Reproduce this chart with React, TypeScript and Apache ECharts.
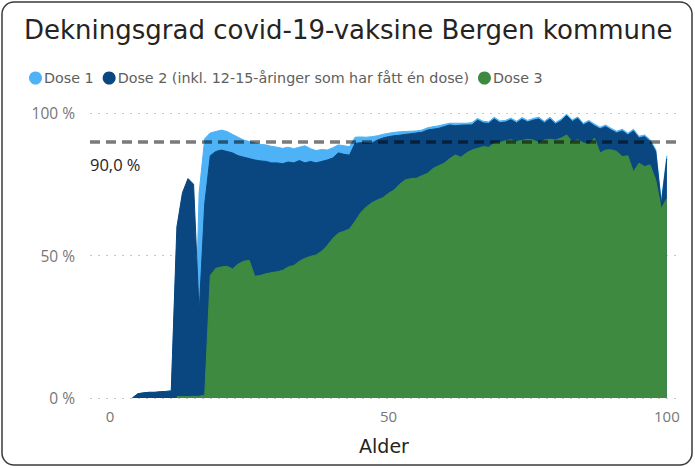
import React, { useEffect, useRef } from "react";
import * as echarts from "echarts";

// Age 0..100
const ages: number[] = Array.from({ length: 101 }, (_, i) => i);

const dose1: (number | null)[] = [
  null, null, null, null, 0, 1.5, 1.8, 2, 2, 2.2,
  2.3, 2.5, 56, 69, 74, 0, 72, 91, 93, 93.5,
  94, 93.5, 92.5, 91.5, 90.5, 90, 89.5, 89, 88.8, 88.3,
  88, 87.6, 88, 87.5, 88, 88.5, 87.5, 86.8, 87.2, 87,
  87.8, 88.8, 88.5, 88.2, 91.5, 91.6, 91.5, 91.7, 92, 92.5,
  92.9, 93.2, 93.4, 93.5, 93.6, 93.7, 94, 94.8, 95.2, 95.5,
  96, 96.4, 96.4, 96.4, 96.4, 96.6, 98.1, 97.1, 96.9, 98.5,
  97.2, 97.4, 98.2, 97.1, 98.4, 97.4, 98.1, 98.5, 97.1, 98.5,
  96.7, 97.8, 99.6, 97.6, 98.6, 96.4, 97.4, 96.1, 95, 95.8,
  94.6, 93.6, 94.3, 92.9, 94.3, 91.8, 92.3, 90.6, 87.2, 69,
  85,
];

const dose2: (number | null)[] = [
  null, null, null, null, 0, 1.5, 1.8, 2, 2, 2.2,
  2.3, 2.5, 60, 72, 77, 75, 30, 68, 85, 86.5,
  87, 86.5, 86, 85, 84.5, 84, 83.5, 83.2, 83, 82.5,
  82.5, 82.2, 82.8, 82.5, 83.3, 82.5, 83, 82.5, 83, 83.5,
  84.2, 86, 85.5, 85.2, 89.3, 89.6, 89.5, 89.4, 90.5, 91.2,
  91.7, 92, 92.2, 92.5, 92.7, 93, 93.2, 94, 94.3, 94.6,
  95.2, 95.8, 95.5, 95.7, 95.8, 95.8, 97.5, 96.5, 96.3, 97.9,
  96.6, 96.8, 97.6, 96.5, 97.8, 96.8, 97.5, 97.9, 96.5, 97.9,
  96.1, 97.2, 99.1, 97, 98.1, 95.8, 96.8, 95.5, 94.4, 95.2,
  94, 93, 93.7, 92.3, 93.7, 91.2, 91.7, 90, 86.5, 68,
  84,
];

const dose3: (number | null)[] = [
  null, null, null, null, null, null, null, null, null, null,
  null, null, 0.5, 0.5, 0.5, 0.6, 0.6, 1, 43, 45.5,
  46, 46.2, 45.3, 47, 48, 48.3, 42.7, 43, 43.6, 44,
  44.3, 44.8, 46, 46.5, 48, 49, 49.7, 50.2, 51.5, 53.5,
  56, 57.8, 58.5, 59.3, 62, 65, 67, 68.5, 69.5, 70.3,
  71.8, 73, 75, 76.5, 77, 77.1, 78, 78.8, 80.5, 81.5,
  82.4, 84, 85.3, 84.5, 86, 87, 87.6, 88.2, 88, 89.4,
  89.6, 90.3, 90.6, 90, 90.4, 90.8, 90.5, 89.6, 90.5, 90.8,
  90.5, 91.2, 92.3, 90, 90.6, 89.5, 89, 91.2, 86, 87,
  87.1, 86.5, 84.7, 85, 79.4, 82.4, 81.2, 81.8, 76.5, 66.5,
  70,
];

const seriesNames = [
  "Dose 1",
  "Dose 2 (inkl. 12-15-åringer som har fått én dose)",
  "Dose 3",
];
const seriesColors = ["#4db2f6", "#0a467f", "#3f8a41"];
const xTickValues = [0, 50, 100];
const targetLevel = 90;
const targetLabel = "90,0 %";

const toPairs = (vals: (number | null)[]) =>
  ages.map((a, i) => [a, vals[i]]);

export default function App() {
  const ref = useRef<HTMLDivElement>(null);
  useEffect(() => {
    if (!ref.current) return;
    const chart = echarts.init(ref.current, undefined, { renderer: "svg" });
    const din = "DejaVu Sans";
    const allData = [dose1, dose2, dose3];
    chart.setOption({
      animation: false,
      backgroundColor: "#ffffff",
      title: {
        text: "Dekningsgrad covid-19-vaksine Bergen kommune",
        left: 19,
        top: 12,
        textStyle: {
          fontFamily: din,
          fontSize: 26,
          fontWeight: "normal",
          color: "#252423",
        },
      },
      legend: {
        left: 24,
        top: 66,
        icon: "circle",
        itemWidth: 13,
        itemHeight: 13,
        itemGap: 9,
        textStyle: {
          fontFamily: din,
          fontSize: 14.3,
          color: "#605e5c",
          padding: [0, 0, 0, -3],
        },
        data: seriesNames,
      },
      graphic: [
        {
          type: "rect",
          shape: { x: 2, y: 2, width: 690, height: 463, r: 12 },
          style: { fill: "none", stroke: "#3a3a3a", lineWidth: 1.5 },
          silent: true,
          z: 100,
        },
      ],
      grid: { left: 90, right: 17, top: 113, bottom: 70 },
      xAxis: {
        type: "value",
        min: -3.6,
        max: 102,
        name: "Alder",
        nameLocation: "middle",
        nameGap: 38,
        nameTextStyle: { fontFamily: din, fontSize: 19, color: "#252423" },
        axisLine: { show: false },
        axisTick: { show: false },
        splitLine: { show: false },
        axisLabel: {
          customValues: xTickValues,
          fontFamily: "Open Sans",
          fontSize: 15,
          color: "#777777",
          margin: 10,
        },
      },
      yAxis: {
        type: "value",
        min: 0,
        max: 100,
        interval: 50,
        axisLine: { show: false },
        axisTick: { show: false },
        axisLabel: {
          formatter: "{value} %",
          fontFamily: "Open Sans",
          fontSize: 15.5,
          color: "#777777",
          margin: 15,
        },
        splitLine: {
          lineStyle: { type: [2, 6], color: "#c8c8c8", width: 1 },
        },
      },
      series: allData.map((vals, i) => ({
        name: seriesNames[i],
        type: "line",
        data: toPairs(vals),
        showSymbol: false,
        symbol: "none",
        lineStyle: { width: 1, color: seriesColors[i] },
        itemStyle: { color: seriesColors[i] },
        areaStyle: { color: seriesColors[i], opacity: 1 },
        z: 2 + i,
        ...(i === 2
          ? {
              markLine: {
                silent: true,
                symbol: "none",
                data: [{ yAxis: targetLevel }],
                lineStyle: {
                  type: [10, 6],
                  width: 3.5,
                  color: "rgba(0,0,0,0.52)",
                },
                label: {
                  show: true,
                  position: "insideStartBottom",
                  formatter: targetLabel,
                  fontFamily: "Open Sans",
                  fontSize: 16.5,
                  color: "#252423",
                  padding: [10, 0, 0, 0],
                  distance: [0, 4],
                },
              },
            }
          : {}),
      })),
    });
    return () => chart.dispose();
  }, []);
  return (
    <div
      ref={ref}
      style={{ position: "fixed", left: 0, top: 0, width: 695, height: 468 }}
    />
  );
}
